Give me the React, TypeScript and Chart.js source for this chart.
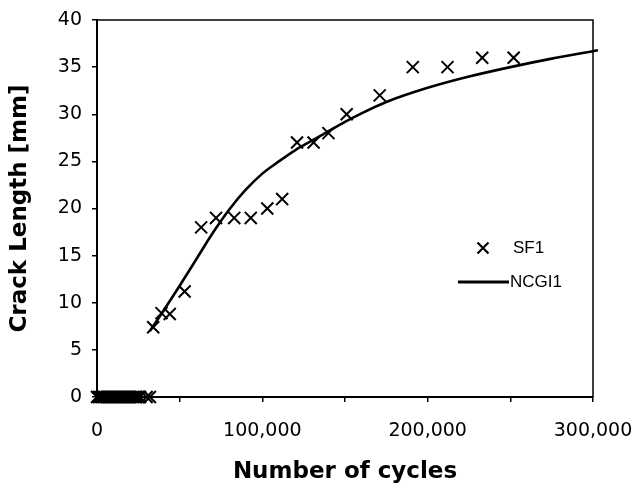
import React, { useEffect, useRef } from 'react';
import { Chart, registerables } from 'chart.js';

Chart.register(...registerables);

// SF1 measured crack length (scatter, × markers)
const sf1Cycles = [
  0, 1000, 2000, 3000, 4000, 5000, 6000, 7000, 8000, 9000, 10000, 11000, 12000, 13000, 14000,
  15000, 16000, 17000, 18000, 19000, 20000, 21000, 22000, 23000, 24000, 25000, 26000, 30000, 32000,
  34000, 39000, 44000, 53000, 63000, 72000, 83000, 93000, 103000, 112000, 121000, 131000, 140000, 151000,
  171000, 191000, 212000, 233000, 252000,
];
const sf1Crack = [
  0, 0, 0, 0, 0, 0, 0, 0, 0, 0, 0, 0, 0, 0, 0,
  0, 0, 0, 0, 0, 0, 0, 0, 0, 0, 0, 0, 0, 0,
  7.4, 8.9, 8.8, 11.2, 18, 19, 19, 19, 20, 21, 27, 27, 28, 30,
  32, 35, 35, 36, 36,
];

// NCGI1 predicted curve (solid line)
const ncgiCycles = [
  32000, 40000, 50000, 60000, 70000, 80000, 90000, 100000, 110000, 120000, 130000, 140000, 150000,
  160000, 175000, 200000, 225000, 250000, 275000, 303000,
];
const ncgiCrack = [
  7.0, 9.1, 11.8, 14.6, 17.4, 19.9, 22.0, 23.7, 25.0, 26.2, 27.2, 28.2, 29.2,
  30.1, 31.3, 32.8, 34.0, 35.0, 35.9, 36.8,
];

const xTickLabels = ['0', '100,000', '200,000', '300,000'];
const seriesNames = ['SF1', 'NCGI1'];
const xTitle = 'Number of cycles';
const yTitle = 'Crack Length [mm]';

const framePlugin = {
  id: 'frameAndLegend',
  beforeDatasetsDraw(chart: any) {
    const { ctx, chartArea: a } = chart;
    ctx.save();
    ctx.strokeStyle = '#000';
    ctx.lineWidth = 1.5;
    ctx.beginPath();
    ctx.moveTo(a.left, a.top);
    ctx.lineTo(a.right, a.top);
    ctx.lineTo(a.right, a.bottom);
    ctx.stroke();
    ctx.restore();
  },
  afterDraw(chart: any) {
    const { ctx, chartArea: a } = chart;
    ctx.save();
    ctx.strokeStyle = '#000';
    ctx.fillStyle = '#000';
    // SF1 marker
    const cx = a.right - 110;
    const cy = a.top + 228;
    const h = 5.5;
    ctx.lineWidth = 2.2;
    ctx.beginPath();
    ctx.moveTo(cx - h, cy - h);
    ctx.lineTo(cx + h, cy + h);
    ctx.moveTo(cx - h, cy + h);
    ctx.lineTo(cx + h, cy - h);
    ctx.stroke();
    ctx.font = '17px "Liberation Sans", Arial, sans-serif';
    ctx.textBaseline = 'middle';
    ctx.textAlign = 'left';
    ctx.fillText(seriesNames[0], a.right - 80, cy);
    // NCGI1 line sample
    const ly = a.top + 262;
    ctx.lineWidth = 3;
    ctx.beginPath();
    ctx.moveTo(a.right - 135, ly);
    ctx.lineTo(a.right - 84, ly);
    ctx.stroke();
    ctx.fillText(seriesNames[1], a.right - 83, ly);
    ctx.restore();
  },
};

export default function App() {
  const ref = useRef<HTMLCanvasElement | null>(null);

  useEffect(() => {
    if (!ref.current) return;
    const tickFont = { family: '"DejaVu Sans", sans-serif', size: 19 };
    const titleFont = { family: '"DejaVu Sans", sans-serif', size: 23, weight: 'bold' as const };
    const chart = new Chart(ref.current, {
      type: 'scatter',
      data: {
        datasets: [
          {
            label: seriesNames[0],
            data: sf1Cycles.map((x, i) => ({ x, y: sf1Crack[i] })),
            showLine: false,
            pointStyle: 'crossRot',
            pointRadius: 8.5,
            pointBorderWidth: 2,
            borderColor: '#000',
            backgroundColor: '#000',
            clip: false as any,
          },
          {
            label: seriesNames[1],
            data: ncgiCycles.map((x, i) => ({ x, y: ncgiCrack[i] })),
            showLine: true,
            pointRadius: 0,
            borderWidth: 2.6,
            borderColor: '#000',
            tension: 0.4,
            cubicInterpolationMode: 'monotone',
            clip: false as any,
          },
        ],
      },
      options: {
        animation: false,
        responsive: false,
        devicePixelRatio: 1,
        layout: { padding: { top: 20, right: 45, left: 0, bottom: 0 } },
        plugins: { legend: { display: false }, tooltip: { enabled: false } },
        scales: {
          x: {
            type: 'linear',
            min: 0,
            max: 300000,
            afterFit: (s: any) => { s.height = 95; s.paddingLeft = 0; s.paddingRight = 0; },
            grid: { drawOnChartArea: false, drawTicks: true, tickLength: 5, color: '#000', lineWidth: 1.5 },
            border: { display: true, color: '#000', width: 2 },
            ticks: {
              stepSize: 50000,
              autoSkip: false,
              maxRotation: 0,
              padding: 18,
              color: '#000',
              font: tickFont,
              callback: (v: any) => (Number(v) % 100000 === 0 ? xTickLabels[Number(v) / 100000] : ''),
            },
            title: { display: true, text: xTitle, color: '#000', font: titleFont, padding: { top: 0, bottom: 6 } },
          },
          y: {
            type: 'linear',
            min: 0,
            max: 40,
            afterFit: (s: any) => { s.width = 97; s.paddingTop = 0; s.paddingBottom = 0; },
            grid: { drawOnChartArea: false, drawTicks: true, tickLength: 5, color: '#000', lineWidth: 1.5 },
            border: { display: true, color: '#000', width: 2 },
            ticks: { stepSize: 5, padding: 10, color: '#000', font: tickFont },
            title: { display: true, text: yTitle, color: '#000', font: titleFont, padding: { top: 6, bottom: 0 } },
          },
        },
      },
      plugins: [framePlugin],
    });
    return () => chart.destroy();
  }, []);

  return (
    <div style={{ position: 'absolute', left: 0, top: 0, width: 638, height: 492, background: '#fff' }}>
      <canvas ref={ref} width={638} height={492} style={{ width: 638, height: 492, display: 'block' }} />
    </div>
  );
}
